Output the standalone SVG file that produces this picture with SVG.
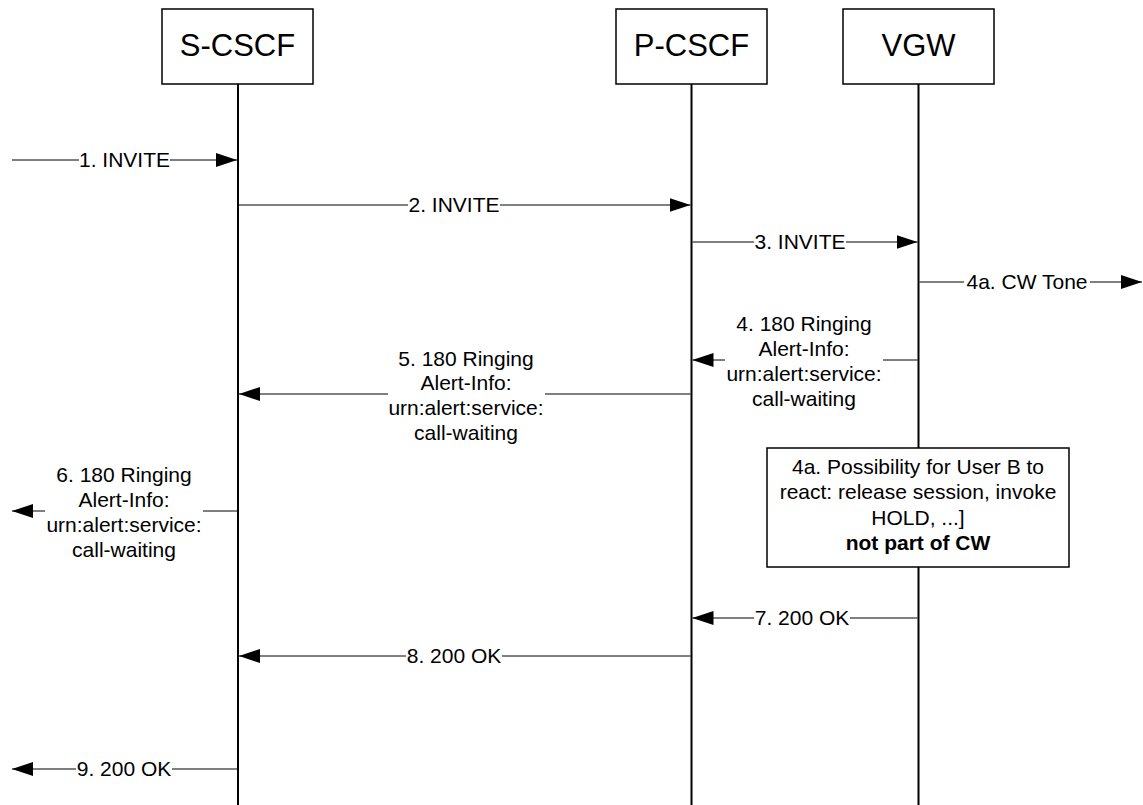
<svg xmlns="http://www.w3.org/2000/svg" width="1143" height="805" viewBox="0 0 1143 805">
<style>
text{font-family:"Liberation Sans",Arial,sans-serif;fill:#000;text-anchor:middle}
.hdr{font-size:31px}
.lbl{font-size:21px}
.b{font-weight:bold}
.box{fill:#fff;stroke:#000;stroke-width:1.5}
.life{stroke:#000;stroke-width:2;fill:none}
.msg{stroke:#000;stroke-width:1;fill:none}
.arr{marker-end:url(#ah)}
</style>
<defs>
<marker id="ah" markerUnits="userSpaceOnUse" markerWidth="21" markerHeight="14" refX="21" refY="7" orient="auto">
<path d="M0,0 L21,7 L0,14 Z" fill="#000"/>
</marker>
</defs>
<rect width="1143" height="805" fill="#fff"/>
<g id="lifelines">
<line class="life" x1="238" y1="84" x2="238" y2="805"/>
<line class="life" x1="691.5" y1="84" x2="691.5" y2="805"/>
<line class="life" x1="918.5" y1="84" x2="918.5" y2="805"/>
</g>
<g id="node-scscf"><rect class="box" x="162" y="9" width="151" height="75"/><text class="hdr" x="237.5" y="56">S-CSCF</text></g>
<g id="node-pcscf"><rect class="box" x="616" y="9" width="151" height="75"/><text class="hdr" x="691.5" y="56">P-CSCF</text></g>
<g id="node-vgw"><rect class="box" x="843" y="9" width="151" height="75"/><text class="hdr" x="918.5" y="56">VGW</text></g>
<g id="connectors">
<line class="msg" x1="12" y1="160" x2="79" y2="160"/><line class="msg arr" x1="170" y1="160" x2="237" y2="160"/>
<text class="lbl" x="124.5" y="167">1. INVITE</text>
<line class="msg" x1="239" y1="205" x2="408" y2="205"/><line class="msg arr" x1="500" y1="205" x2="690.5" y2="205"/>
<text class="lbl" x="454" y="212">2. INVITE</text>
<line class="msg" x1="692.5" y1="242" x2="754" y2="242"/><line class="msg arr" x1="846" y1="242" x2="917.5" y2="242"/>
<text class="lbl" x="800" y="249">3. INVITE</text>
<line class="msg" x1="919.5" y1="282" x2="964" y2="282"/><line class="msg arr" x1="1090" y1="282" x2="1142" y2="282"/>
<text class="lbl" x="1027" y="289">4a. CW Tone</text>
<line class="msg" x1="917.5" y1="360" x2="883" y2="360"/><line class="msg arr" x1="725" y1="360" x2="692.5" y2="360"/>
<text class="lbl" x="804" y="330.5">4. 180 Ringing</text>
<text class="lbl" x="804" y="355.5">Alert-Info:</text>
<text class="lbl" x="804" y="380.5">urn:alert:service:</text>
<text class="lbl" x="804" y="405.5">call-waiting</text>
<line class="msg" x1="690.5" y1="394" x2="545" y2="394"/><line class="msg arr" x1="388" y1="394" x2="239" y2="394"/>
<text class="lbl" x="466" y="365.5">5. 180 Ringing</text>
<text class="lbl" x="466" y="390">Alert-Info:</text>
<text class="lbl" x="466" y="415">urn:alert:service:</text>
<text class="lbl" x="466" y="440">call-waiting</text>
<line class="msg" x1="237" y1="511" x2="203" y2="511"/><line class="msg arr" x1="45" y1="511" x2="12" y2="511"/>
<text class="lbl" x="124" y="482">6. 180 Ringing</text>
<text class="lbl" x="124" y="506.5">Alert-Info:</text>
<text class="lbl" x="124" y="531.5">urn:alert:service:</text>
<text class="lbl" x="124" y="556.5">call-waiting</text>
<line class="msg" x1="917.5" y1="618" x2="850" y2="618"/><line class="msg arr" x1="754" y1="618" x2="692.5" y2="618"/>
<text class="lbl" x="802" y="625">7. 200 OK</text>
<line class="msg" x1="690.5" y1="656" x2="502" y2="656"/><line class="msg arr" x1="406" y1="656" x2="239" y2="656"/>
<text class="lbl" x="454" y="663">8. 200 OK</text>
<line class="msg" x1="237" y1="769" x2="172" y2="769"/><line class="msg arr" x1="76" y1="769" x2="12" y2="769"/>
<text class="lbl" x="124" y="776">9. 200 OK</text>
</g>
<g id="node-4a">
<rect class="box" x="767" y="448" width="302" height="119"/>
<text class="lbl" x="918" y="473.5">4a. Possibility for User B to</text>
<text class="lbl" x="918" y="499">react: release session, invoke</text>
<text class="lbl" x="918" y="524.5">HOLD, ...]</text>
<text class="lbl b" x="918" y="550">not part of CW</text>
</g>
</svg>
